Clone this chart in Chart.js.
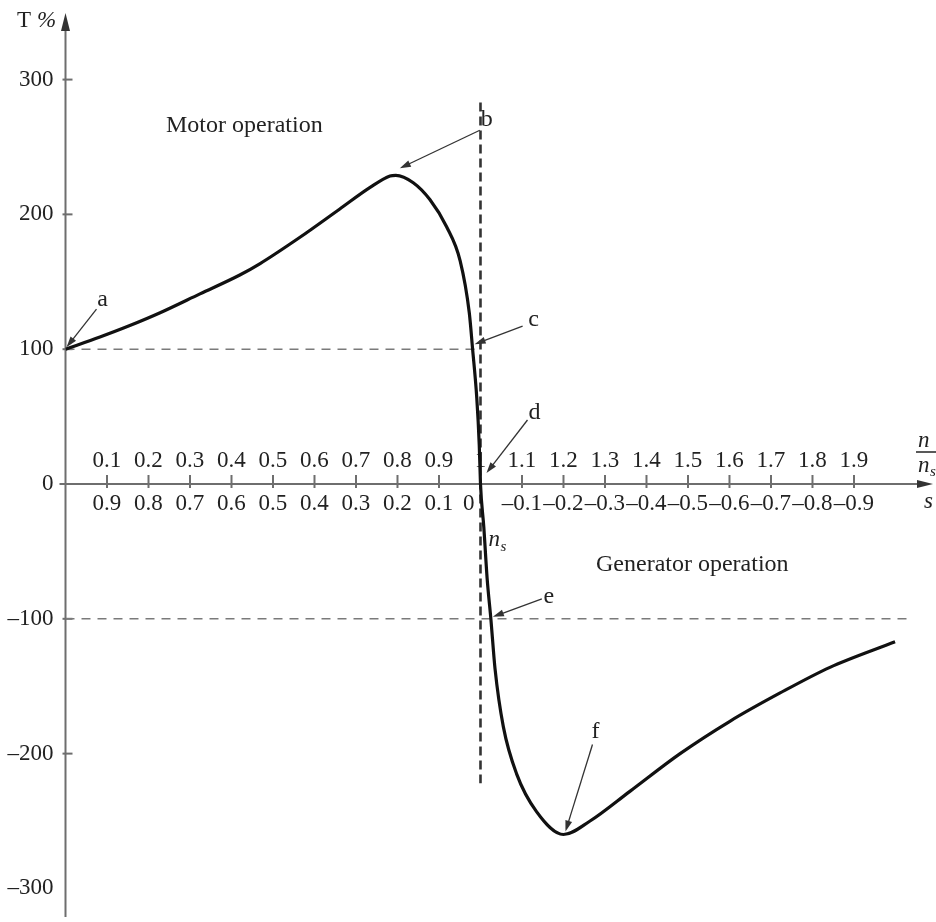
<!DOCTYPE html>
<html>
<head>
<meta charset="utf-8">
<script src="https://cdn.jsdelivr.net/npm/chart.js@4"></script>
<style>
  html, body { margin: 0; padding: 0; background: #ffffff; }
  #wrap { width: 936px; height: 922px; position: relative; }
</style>
</head>
<body>
<div id="wrap"><canvas id="chart"></canvas></div>
<script>
// Torque–speed characteristic of an induction machine
// speed ratio n/ns along the curve
const speedRatio = [0, 0.083, 0.155, 0.228, 0.324, 0.420, 0.469, 0.565, 0.661, 0.734,
  0.782, 0.796, 0.838, 0.878, 0.918, 0.951, 0.973, 0.981, 0.991, 0.997,
  1.0, 1.008, 1.016, 1.025, 1.035, 1.055, 1.087, 1.135, 1.2, 1.264,
  1.360, 1.481, 1.601, 1.722, 1.842, 1.999];
// torque in percent of rated torque
const torquePct = [100, 109, 117.5, 127, 141, 155, 163.5, 183, 204, 220,
  228.5, 229, 223.5, 211, 191, 165.5, 127, 100, 64, 29,
  0, -32, -70, -100, -137, -180, -215, -243, -260, -250,
  -228, -200, -176, -155, -136, -117];

// axis ticks
const torqueTicks = [300, 200, 100, 0, -100, -200, -300];
const speedTicks = [0.1, 0.2, 0.3, 0.4, 0.5, 0.6, 0.7, 0.8, 0.9, 1.0,
  1.1, 1.2, 1.3, 1.4, 1.5, 1.6, 1.7, 1.8, 1.9];

// reference lines: rated torque (motor / generator) and synchronous speed
const ratedMotorLine = { n: [0, 1.0], t: [100, 100] };
const ratedGenLine = { n: [0, 2.03], t: [-100, -100] };
const syncLine = { n: [1.0, 1.0], t: [283, -222] };

// point labels a–f, each tied to a point index on the curve
const pointLabels = ['a', 'b', 'c', 'd', 'e', 'f'];
const pointIndex = [0, 11, 17, 20, 23, 28];

const SERIF = '"Liberation Serif", "DejaVu Serif", serif';
const INK = '#222222';
const AXIS = '#6e6e6e';

const toXY = (ns, ts) => ns.map((n, i) => ({ x: n, y: ts[i] }));

// pixel offsets of arrow tip, arrow tail and letter from each labelled point
const calloutLayout = {
  a: { tip: [1, -2], tail: [31, -40], txt: [37, -49] },
  b: { tip: [4, -7], tail: [84, -45], txt: [91, -56] },
  c: { tip: [2, -5], tail: [50, -23], txt: [61, -29] },
  d: { tip: [6, -11], tail: [47, -64], txt: [54, -71] },
  e: { tip: [2, -2], tail: [51, -20], txt: [58, -22] },
  f: { tip: [2, -3], tail: [29, -90], txt: [32, -103] }
};

function fmt(v) {
  if (Math.abs(v) < 1e-9) return '0';
  const s = Math.abs(v).toFixed(1).replace(/\.0$/, '');
  return (v < 0 ? '\u2013' : '') + s;
}

function arrow(ctx, x1, y1, x2, y2, color, lw, headLen, headW) {
  const ang = Math.atan2(y2 - y1, x2 - x1);
  ctx.save();
  ctx.strokeStyle = color;
  ctx.fillStyle = color;
  ctx.lineWidth = lw;
  ctx.beginPath();
  ctx.moveTo(x1, y1);
  ctx.lineTo(x2 - Math.cos(ang) * headLen * 0.8, y2 - Math.sin(ang) * headLen * 0.8);
  ctx.stroke();
  ctx.beginPath();
  ctx.moveTo(x2, y2);
  ctx.lineTo(x2 - Math.cos(ang) * headLen - Math.sin(ang) * headW / 2,
             y2 - Math.sin(ang) * headLen + Math.cos(ang) * headW / 2);
  ctx.lineTo(x2 - Math.cos(ang) * headLen + Math.sin(ang) * headW / 2,
             y2 - Math.sin(ang) * headLen - Math.cos(ang) * headW / 2);
  ctx.closePath();
  ctx.fill();
  ctx.restore();
}

const axesPlugin = {
  id: 'axesPlugin',
  beforeDatasetsDraw(chart) {
    const { ctx, scales: { x, y }, chartArea } = chart;
    const x0 = x.getPixelForValue(0);
    const y0 = y.getPixelForValue(0);
    ctx.save();
    ctx.strokeStyle = AXIS;
    ctx.fillStyle = AXIS;
    ctx.lineWidth = 2;
    // vertical torque axis with arrow
    ctx.beginPath();
    ctx.moveTo(x0, chartArea.bottom);
    ctx.lineTo(x0, chartArea.top + 8);
    ctx.stroke();
    ctx.fillStyle = '#333';
    ctx.beginPath();
    ctx.moveTo(x0, chartArea.top - 2);
    ctx.lineTo(x0 - 4.5, chartArea.top + 16);
    ctx.lineTo(x0 + 4.5, chartArea.top + 16);
    ctx.closePath();
    ctx.fill();
    // horizontal speed / slip axis with arrow
    ctx.beginPath();
    ctx.moveTo(x0 - 6, y0);
    ctx.lineTo(chartArea.right - 8, y0);
    ctx.stroke();
    ctx.beginPath();
    ctx.moveTo(chartArea.right + 1, y0);
    ctx.lineTo(chartArea.right - 15, y0 - 4);
    ctx.lineTo(chartArea.right - 15, y0 + 4);
    ctx.closePath();
    ctx.fill();

    // torque ticks and labels
    ctx.fillStyle = INK;
    ctx.font = '23px ' + SERIF;
    ctx.textAlign = 'right';
    ctx.textBaseline = 'middle';
    torqueTicks.forEach(v => {
      const py = y.getPixelForValue(v);
      if (v !== 0 && v !== -300) {
        ctx.beginPath();
        ctx.moveTo(x0 - 3, py);
        ctx.lineTo(x0 + 7, py);
        ctx.stroke();
      }
      ctx.fillText(fmt(v), x0 - 12, py);
    });

    // speed ratio (above) and slip (below) ticks
    ctx.textAlign = 'center';
    speedTicks.forEach(n => {
      const px = x.getPixelForValue(n);
      ctx.beginPath();
      ctx.moveTo(px, y0 - 9);
      ctx.lineTo(px, y0 + 4);
      ctx.stroke();
      ctx.fillText(fmt(n), px, y0 - 23);
      const s = 1 - n;
      if (Math.abs(s) < 1e-9) {
        ctx.textAlign = 'right';
        ctx.fillText('0', px - 6, y0 + 20);
        ctx.textAlign = 'center';
      } else {
        ctx.fillText(fmt(Math.round(s * 10) / 10), px, y0 + 20);
      }
    });

    // axis titles
    ctx.textAlign = 'left';
    ctx.textBaseline = 'alphabetic';
    ctx.font = '23px ' + SERIF;
    ctx.fillText('T', 17, 27);
    ctx.font = 'italic 23px ' + SERIF;
    ctx.fillText('%', 37, 27);

    // n/ns fraction and slip s at the right end of the axis
    ctx.font = 'italic 23px ' + SERIF;
    ctx.fillText('n', 918, 447);
    ctx.beginPath();
    ctx.lineWidth = 1.5;
    ctx.strokeStyle = INK;
    ctx.moveTo(916, 452);
    ctx.lineTo(940, 452);
    ctx.stroke();
    ctx.fillText('n', 918, 472);
    ctx.font = 'italic 15px ' + SERIF;
    ctx.fillText('s', 930, 476);
    ctx.font = 'italic 23px ' + SERIF;
    ctx.fillText('s', 924, 508);

    // synchronous speed marker
    const xs = x.getPixelForValue(1.0);
    ctx.font = 'italic 23px ' + SERIF;
    ctx.fillText('n', xs + 8, 546);
    ctx.font = 'italic 15px ' + SERIF;
    ctx.fillText('s', xs + 20, 551);

    // operating regions
    ctx.font = '24px ' + SERIF;
    ctx.fillText('Motor operation', 166, 132);
    ctx.fillText('Generator operation', 596, 571);
    ctx.restore();
  },
  afterDatasetsDraw(chart) {
    const { ctx, scales: { x, y } } = chart;
    ctx.save();
    ctx.font = '24px ' + SERIF;
    ctx.fillStyle = INK;
    ctx.textAlign = 'center';
    ctx.textBaseline = 'middle';
    pointLabels.forEach((lbl, k) => {
      const i = pointIndex[k];
      const px = x.getPixelForValue(speedRatio[i]);
      const py = y.getPixelForValue(torquePct[i]);
      const L = calloutLayout[lbl];
      arrow(ctx, px + L.tail[0], py + L.tail[1], px + L.tip[0], py + L.tip[1], '#333', 1.3, 11, 7);
      ctx.fillText(lbl, px + L.txt[0], py + L.txt[1]);
    });
    ctx.restore();
  }
};

new Chart(document.getElementById('chart'), {
  type: 'scatter',
  data: {
    datasets: [
      {
        label: 'Torque',
        data: toXY(speedRatio, torquePct),
        showLine: true,
        borderColor: '#111111',
        borderWidth: 3.2,
        pointRadius: 0,
        cubicInterpolationMode: 'monotone',
        order: 0
      },
      {
        label: 'Rated motor torque',
        data: toXY(ratedMotorLine.n, ratedMotorLine.t),
        showLine: true,
        borderColor: '#7a7a7a',
        borderWidth: 1.6,
        borderDash: [9, 7],
        pointRadius: 0,
        order: 2
      },
      {
        label: 'Rated generator torque',
        data: toXY(ratedGenLine.n, ratedGenLine.t),
        showLine: true,
        borderColor: '#7a7a7a',
        borderWidth: 1.6,
        borderDash: [9, 7],
        pointRadius: 0,
        order: 2
      },
      {
        label: 'Synchronous speed',
        data: toXY(syncLine.n, syncLine.t),
        showLine: true,
        borderColor: '#333333',
        borderWidth: 2.6,
        borderDash: [9, 5],
        pointRadius: 0,
        order: 1
      }
    ]
  },
  options: {
    responsive: true,
    maintainAspectRatio: false,
    animation: false,
    layout: { padding: { left: 65.5, right: 4, top: 15, bottom: 5 } },
    plugins: { legend: { display: false }, tooltip: { enabled: false } },
    scales: {
      x: { type: 'linear', display: false, min: 0, max: 2.088 },
      y: { type: 'linear', display: false, min: -321.2, max: 347.9 }
    }
  },
  plugins: [axesPlugin]
});
</script>
</body>
</html>
